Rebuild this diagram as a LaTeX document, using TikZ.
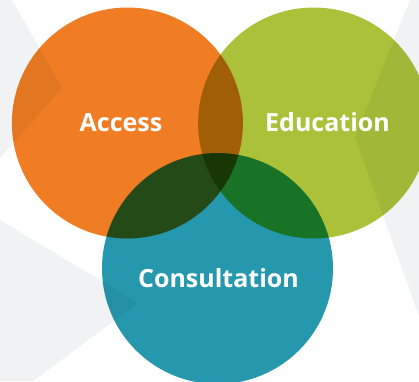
\documentclass[tikz,border=0pt]{standalone}
\usepackage{fontspec}
\setmainfont{Open Sans}
\definecolor{bggray}{RGB}{241,242,244}
\definecolor{accesscol}{RGB}{240,125,35}
\definecolor{educol}{RGB}{171,193,58}
\definecolor{conscol}{RGB}{38,152,174}
\begin{document}
\begin{tikzpicture}[x=1pt,y=-1pt,
  venn/.style={blend mode=multiply},
  venntext/.style={white,anchor=base,font=\fontsize{25}{30}\selectfont\bfseries}]
  \def\r{115.5};
  \def\ax{127.4};
  \def\ex{313.6};
  \def\cx{217.5};
  \def\ty{123};
  \def\by{268.5};
  \useasboundingbox (0,0) rectangle (419,381);
  \fill[white] (0,0) rectangle (419,381);
  \fill[bggray] (0,0)--(12,0)--(62,88)--(0,158)--cycle;
  \fill[bggray] (0,220)--(138,303)--(33,381)--(0,381)--cycle;
  \fill[bggray] (410,0)--(355,137)--(419,316)--(419,0)--cycle;
  \fill[accesscol,venn] (\ax,\ty) circle (\r pt);
  \fill[educol,venn] (\ex,\ty) circle (\r pt);
  \fill[conscol,venn] (\cx,\by) circle (\r pt);
  \node[venntext] (access) at (121,131) {Access};
  \node[venntext] (education) at (327.5,131) {Education};
  \node[venntext] (consultation) at (218.5,287) {Consultation};
\end{tikzpicture}
\end{document}
